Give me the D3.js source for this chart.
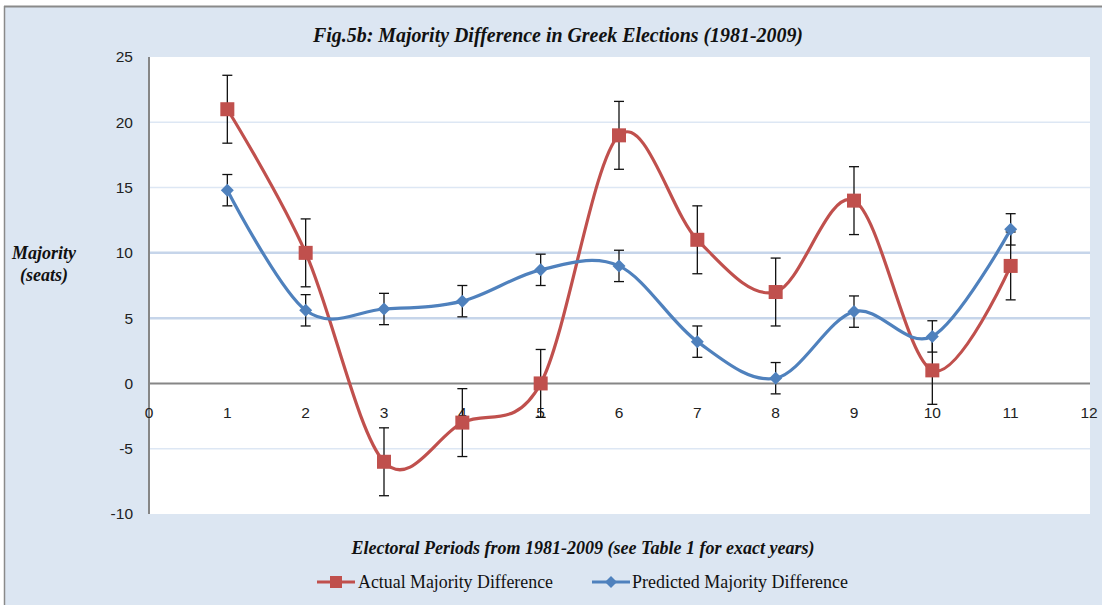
<!DOCTYPE html>
<html><head><meta charset="utf-8">
<script src="https://cdn.jsdelivr.net/npm/d3@7/dist/d3.min.js"></script>
<style>body{margin:0;background:#fff}</style>
</head><body><svg id="c" width="1102" height="605"></svg>
<script>
const periods = [1,2,3,4,5,6,7,8,9,10,11];
const actual = [21,10,-6,-3,0,19,11,7,14,1,9];
const predicted = [14.8,5.6,5.7,6.3,8.7,9.0,3.2,0.4,5.5,3.6,11.8];
const actualErr = 2.6;
const predictedErr = 1.2;
const xTicks = [0,1,2,3,4,5,6,7,8,9,10,11,12];
const yTicks = [-10,-5,0,5,10,15,20,25];
const gridVals = [-5,5,10,15,20];
const titleText = "Fig.5b: Majority Difference in Greek Elections (1981-2009)";
const xTitle = "Electoral Periods from 1981-2009 (see Table 1 for exact years)";
const seriesNames = ["Actual Majority Difference","Predicted Majority Difference"];

const svg = d3.select("#c");
const red = "#c0504d", blue = "#4f81bd";
svg.append("rect").attr("x",0).attr("y",0).attr("width",1102).attr("height",605).attr("fill","#fff");
svg.append("rect").attr("x",5).attr("y",7).attr("width",1097).attr("height",598).attr("fill","#dce6f2");
svg.append("line").attr("x1",4).attr("x2",1102).attr("y1",6.5).attr("y2",6.5).attr("stroke","#8a8a8a").attr("stroke-width",2);
svg.append("line").attr("x1",4.5).attr("x2",4.5).attr("y1",6).attr("y2",605).attr("stroke","#8a8a8a").attr("stroke-width",1.5);

const L=149, R=1089, T=57, B=514;
const x = d3.scaleLinear().domain([0,12]).range([L,R]);
const y = d3.scaleLinear().domain([-10,25]).range([B,T]);
svg.append("rect").attr("x",L).attr("y",T).attr("width",R-L+1).attr("height",B-T).attr("fill","#fff");

svg.append("g").selectAll("line").data(gridVals).join("line")
  .attr("x1",L).attr("x2",R+1).attr("y1",d=>y(d)).attr("y2",d=>y(d))
  .attr("stroke",d=>(d===5||d===10)?"#c6d5ea":"#dde7f4").attr("stroke-width",d=>(d===5||d===10)?2.5:1.5);

svg.append("line").attr("x1",L).attr("x2",R+1).attr("y1",y(0)).attr("y2",y(0)).attr("stroke","#868686").attr("stroke-width",2);
svg.append("line").attr("x1",L).attr("x2",L).attr("y1",T).attr("y2",B).attr("stroke","#868686").attr("stroke-width",2);

const sans = "'Liberation Sans', Arial, sans-serif";
svg.append("g").selectAll("text").data(yTicks).join("text")
  .attr("x",133).attr("y",d=>y(d)).attr("dy","0.35em").attr("text-anchor","end")
  .attr("font-family",sans).attr("font-size",15.5).attr("fill","#222")
  .text(d=>d);
svg.append("g").selectAll("text").data(xTicks).join("text")
  .attr("x",d=>x(d)).attr("y",y(0)+35).attr("text-anchor","middle")
  .attr("font-family",sans).attr("font-size",15.5).attr("fill","#222")
  .text(d=>d);

const line = d3.line().x(d=>x(d[0])).y(d=>y(d[1])).curve(d3.curveCardinal.tension(0));
const aData = periods.map((p,i)=>[p,actual[i]]);
const pData = periods.map((p,i)=>[p,predicted[i]]);

function errBars(data, err){
  const g = svg.append("g").attr("stroke","#111").attr("stroke-width",1.3);
  data.forEach(d=>{
    const cx=x(d[0]), y1=y(d[1]+err), y2=y(d[1]-err);
    g.append("line").attr("x1",cx).attr("x2",cx).attr("y1",y1).attr("y2",y2);
    g.append("line").attr("x1",cx-5).attr("x2",cx+5).attr("y1",y1).attr("y2",y1);
    g.append("line").attr("x1",cx-5).attr("x2",cx+5).attr("y1",y2).attr("y2",y2);
  });
}

svg.append("path").datum(aData).attr("d",line).attr("fill","none").attr("stroke",red).attr("stroke-width",3.2);
svg.append("path").datum(pData).attr("d",line).attr("fill","none").attr("stroke",blue).attr("stroke-width",3.2);
errBars(aData, actualErr);
errBars(pData, predictedErr);

svg.append("g").selectAll("rect").data(aData).join("rect")
  .attr("x",d=>x(d[0])-7).attr("y",d=>y(d[1])-7).attr("width",14).attr("height",14).attr("fill",red);
svg.append("g").selectAll("path").data(pData).join("path")
  .attr("transform",d=>`translate(${x(d[0])},${y(d[1])})`)
  .attr("d","M0,-6.5L6.5,0L0,6.5L-6.5,0Z").attr("fill",blue);

const serif = "'Liberation Serif', 'Times New Roman', serif";
svg.append("text").attr("x",558).attr("y",42).attr("text-anchor","middle")
  .attr("font-family",serif).attr("font-style","italic").attr("font-weight","bold").attr("font-size",20).attr("fill","#111")
  .attr("textLength",490).attr("lengthAdjust","spacingAndGlyphs")
  .text(titleText);
svg.append("text").attr("x",583).attr("y",554).attr("text-anchor","middle")
  .attr("font-family",serif).attr("font-style","italic").attr("font-weight","bold").attr("font-size",18).attr("fill","#111")
  .attr("textLength",463).attr("lengthAdjust","spacingAndGlyphs")
  .text(xTitle);
const yl = svg.append("text").attr("text-anchor","middle")
  .attr("font-family",serif).attr("font-style","italic").attr("font-weight","bold").attr("font-size",18).attr("fill","#111");
yl.append("tspan").attr("x",44).attr("y",259).text("Majority");
yl.append("tspan").attr("x",44).attr("y",281).text("(seats)");

const lg = svg.append("g").attr("font-family",serif).attr("font-size",18).attr("fill","#111");
lg.append("line").attr("x1",317).attr("x2",355).attr("y1",582).attr("y2",582).attr("stroke",red).attr("stroke-width",3.2);
lg.append("rect").attr("x",330).attr("y",576).attr("width",12).attr("height",12).attr("fill",red);
lg.append("text").attr("x",358).attr("y",588).attr("textLength",195).attr("lengthAdjust","spacingAndGlyphs").text(seriesNames[0]);
lg.append("line").attr("x1",592).attr("x2",630).attr("y1",582).attr("y2",582).attr("stroke",blue).attr("stroke-width",3.2);
lg.append("path").attr("transform","translate(611,582)").attr("d","M0,-6L6,0L0,6L-6,0Z").attr("fill",blue);
lg.append("text").attr("x",632).attr("y",588).attr("textLength",216).attr("lengthAdjust","spacingAndGlyphs").text(seriesNames[1]);
</script></body></html>
